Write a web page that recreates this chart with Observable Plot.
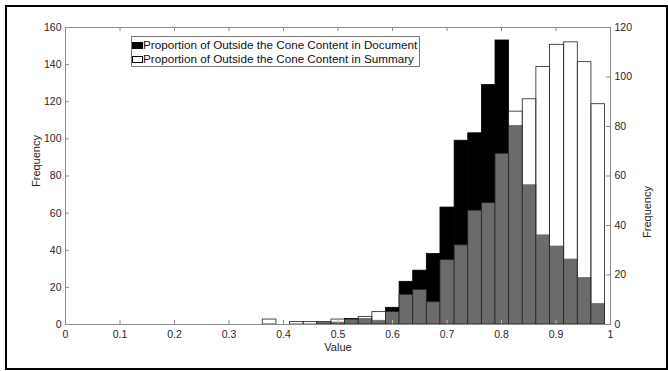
<!DOCTYPE html>
<html>
<head>
<meta charset="utf-8">
<script src="https://cdn.jsdelivr.net/npm/d3@7"></script>
<script src="https://cdn.jsdelivr.net/npm/@observablehq/plot@0.6"></script>
<style>
html, body { margin: 0; padding: 0; background: #fff; }
#wrap { position: relative; width: 668px; height: 371px; overflow: hidden; font-family: "Liberation Sans", Arial, sans-serif; background: #fff; }
#wrap svg { position: absolute; left: 0; top: 0; }
#border { position: absolute; left: 5px; top: 5px; width: 663px; height: 365px; box-sizing: border-box; border: 2px solid #000; pointer-events: none; }
#legend { position: absolute; left: 131px; top: 36px; width: 289px; height: 31px; box-sizing: border-box; border: 1px solid #777; background: #fff; font-size: 11.7px; color: #111; }
#legend .sw { position: absolute; left: 0px; width: 11px; height: 7px; box-sizing: border-box; border: 1px solid #000; }
#legend .tx { position: absolute; left: 11px; height: 14px; line-height: 14px; white-space: nowrap; }
</style>
</head>
<body>
<div id="wrap"></div>
<script>
// ---- data ----
const binEdges = [0.362, 0.387, 0.412, 0.437, 0.462, 0.488, 0.513, 0.538, 0.563, 0.588,
                  0.613, 0.638, 0.663, 0.688, 0.714, 0.739, 0.764, 0.789, 0.814, 0.839,
                  0.864, 0.889, 0.915, 0.940, 0.965, 0.990];
const docCounts = [0, 0, 0, 0, 1, 1, 3, 3, 2, 9, 23, 29, 38, 63, 99, 103, 129, 153, 107, 75, 48, 42, 35, 25, 11];
const sumCounts = [2, 0, 1, 1, 1, 2, 2, 3, 5, 5, 12, 14, 9, 26, 32, 46, 49, 69, 86, 91, 104, 113, 114, 106, 89];
const xTicks = [0, 0.1, 0.2, 0.3, 0.4, 0.5, 0.6, 0.7, 0.8, 0.9, 1];
const leftTicks = [0, 20, 40, 60, 80, 100, 120, 140, 160];
const rightTicks = [0, 20, 40, 60, 80, 100, 120];
const legendLabels = ["Proportion of Outside the Cone Content in Document",
                      "Proportion of Outside the Cone Content in Summary"];
const xLabel = "Value";
const yLabel = "Frequency";

const docBins = docCounts.map((c, i) => ({x1: binEdges[i], x2: binEdges[i + 1], count: c})).filter(d => d.count > 0);
const sumBins = sumCounts.map((c, i) => ({x1: binEdges[i], x2: binEdges[i + 1], count: c})).filter(d => d.count > 0);

const W = 668, H = 371;
const M = {top: 27, right: 58, bottom: 47, left: 65};
const frameW = W - M.left - M.right, frameH = H - M.top - M.bottom;
const axisColor = "#8c8c8c", textColor = "#262626";

const common = {
  width: W, height: H,
  marginTop: M.top, marginRight: M.right, marginBottom: M.bottom, marginLeft: M.left,
  style: {background: "transparent", fontFamily: "'Liberation Sans', Arial, sans-serif", fontSize: "10.5px", color: textColor, overflow: "visible"}
};

const p1 = Plot.plot({
  ...common,
  x: {domain: [0, 1], label: null},
  y: {domain: [0, 160], label: null},
  marks: [
    Plot.rectY(docBins, {x1: "x1", x2: "x2", y: "count", fill: "#000", stroke: "#000", strokeWidth: 0.8}),
    Plot.axisX(xTicks, {tickSize: 0, tickPadding: 6, tickFormat: d => String(d), label: null}),
    Plot.axisY(leftTicks, {anchor: "left", tickSize: 0, tickPadding: 4, label: null}),
    Plot.ruleX(xTicks, {stroke: axisColor, insetTop: frameH - 4}),
    Plot.ruleX(xTicks, {stroke: axisColor, insetBottom: frameH - 4}),
    Plot.ruleY(leftTicks, {stroke: axisColor, insetRight: frameW - 4}),
    Plot.text([xLabel], {frameAnchor: "bottom", dy: 26, text: d => d, fill: textColor, fontSize: 11}),
    Plot.text([yLabel], {frameAnchor: "left", dx: -29, dy: 11, rotate: -90, text: d => d, fill: textColor, fontSize: 11})
  ]
});

const p2 = Plot.plot({
  ...common,
  x: {domain: [0, 1], label: null, axis: null},
  y: {domain: [0, 120], label: null},
  marks: [
    Plot.rectY(sumBins, {x1: "x1", x2: "x2", y: "count", fill: "#fff", fillOpacity: 0.42, stroke: "#222", strokeWidth: 0.8}),
    Plot.frame({stroke: axisColor}),
    Plot.axisY(rightTicks, {anchor: "right", tickSize: 0, tickPadding: 4, label: null}),
    Plot.ruleY(rightTicks, {stroke: axisColor, insetLeft: frameW - 4}),
    Plot.text([yLabel], {frameAnchor: "right", dx: 37, dy: 10, rotate: -90, text: d => d, fill: textColor, fontSize: 11})
  ]
});

const wrap = document.getElementById("wrap");
wrap.appendChild(p1);
wrap.appendChild(p2);

const legend = document.createElement("div");
legend.id = "legend";
const swFills = ["#000", "#fff"];
legendLabels.forEach((lab, i) => {
  const sw = document.createElement("div");
  sw.className = "sw";
  sw.style.top = (5 + i * 14) + "px";
  sw.style.background = swFills[i];
  legend.appendChild(sw);
  const tx = document.createElement("div");
  tx.className = "tx";
  tx.style.top = (1 + i * 14) + "px";
  tx.textContent = lab;
  legend.appendChild(tx);
});
wrap.appendChild(legend);

const border = document.createElement("div");
border.id = "border";
wrap.appendChild(border);
</script>
</body>
</html>
